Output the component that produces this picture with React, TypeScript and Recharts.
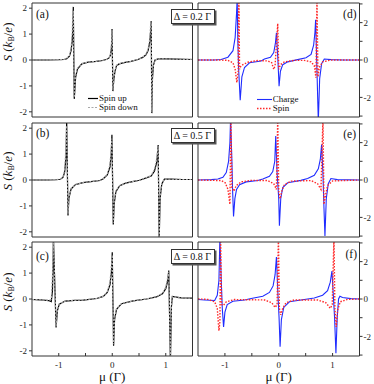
import { LineChart, Line, XAxis, YAxis, Legend, Label } from "recharts";

// chemical potential grids (units of Γ) and thermopower S (k_B/e)

// (a) Δ = 0.2Γ
const muA = [-1.5, -1.2, -1.0, -0.9, -0.85, -0.8, -0.77, -0.75, -0.74, -0.728, -0.71, -0.685, -0.65, -0.57, -0.45, -0.3, -0.18, -0.1, -0.06, -0.035, -0.015, -0.004, 0.012, 0.03, 0.05, 0.08, 0.13, 0.22, 0.35, 0.48, 0.57, 0.63, 0.67, 0.7, 0.715, 0.728, 0.74, 0.752, 0.77, 0.8, 0.86, 1.0, 1.2, 1.5];
const spinUpA = [0, 0, 0.01, 0.02, 0.05, 0.15, 0.36, 0.7, 1.05, 2.05, -1.5, -0.67, -0.35, -0.15, -0.08, -0.05, -0.02, 0.03, 0.08, 0.18, 0.45, 1.2, -1.2, -0.75, -0.45, -0.22, -0.15, -0.1, -0.05, 0.02, 0.1, 0.2, 0.36, 0.68, 1.05, 1.5, -2.05, -0.7, -0.2, 0.0, 0.04, 0.04, 0.03, 0.02];
const spinDownA = [0, 0, 0.01, 0.02, 0.06, 0.18, 0.45, 0.95, 1.6, 1.9, -1.45, -0.6, -0.32, -0.14, -0.08, -0.05, -0.02, 0.03, 0.09, 0.22, 0.6, 1.15, -1.15, -0.7, -0.42, -0.21, -0.14, -0.1, -0.05, 0.02, 0.11, 0.22, 0.42, 0.8, 1.3, 1.45, -2.0, -0.65, -0.18, 0.0, 0.04, 0.04, 0.03, 0.02];

// (b) Δ = 0.5Γ
const muB = [-1.5, -1.2, -1.05, -0.97, -0.92, -0.89, -0.864, -0.852, -0.827, -0.81, -0.77, -0.69, -0.55, -0.4, -0.23, -0.167, -0.093, -0.043, -0.019, -0.006, 0.019, 0.037, 0.068, 0.14, 0.25, 0.4, 0.51, 0.636, 0.728, 0.79, 0.833, 0.858, 0.877, 0.895, 0.926, 0.975, 1.1, 1.3, 1.5];
const spinUpB = [0, 0, 0.01, 0.03, 0.1, 0.3, 0.9, 2.3, -1.37, -0.7, -0.35, -0.18, -0.1, -0.06, -0.02, 0.05, 0.2, 0.5, 1.0, 1.75, -1.72, -0.9, -0.45, -0.22, -0.12, -0.05, -0.01, 0.08, 0.15, 0.35, 0.7, 1.35, -2.3, -0.7, -0.15, 0.03, 0.03, 0.02, 0.02];
const spinDownB = [0, 0, 0.01, 0.04, 0.12, 0.4, 1.3, 2.1, -1.3, -0.65, -0.32, -0.17, -0.1, -0.06, -0.02, 0.06, 0.22, 0.6, 1.25, 1.6, -1.65, -0.85, -0.42, -0.21, -0.12, -0.05, -0.01, 0.09, 0.17, 0.42, 0.85, 1.3, -2.25, -0.65, -0.13, 0.03, 0.03, 0.02, 0.02];

// (c) Δ = 0.8Γ
const muC = [-1.5, -1.35, -1.19, -1.14, -1.118, -1.106, -1.1, -1.05, -1.025, -0.99, -0.88, -0.7, -0.54, -0.29, -0.168, -0.093, -0.043, -0.012, 0.0, 0.025, 0.043, 0.08, 0.174, 0.39, 0.64, 0.826, 0.938, 1.0, 1.037, 1.056, 1.087, 1.106, 1.124, 1.168, 1.29, 1.5];
const spinUpC = [-0.02, -0.03, -0.06, -0.1, 0.3, 1.2, 2.4, -1.1, -0.45, -0.2, -0.08, -0.05, -0.04, 0.02, 0.1, 0.25, 0.55, 1.1, 1.8, -1.8, -0.8, -0.4, -0.18, -0.07, 0.0, 0.08, 0.2, 0.4, 0.7, 1.1, -2.4, -0.3, 0.1, 0.08, 0.04, 0.03];
const spinDownC = [-0.02, -0.03, -0.05, -0.02, 0.9, 2.0, 2.4, -1.05, -0.42, -0.19, -0.08, -0.05, -0.04, 0.02, 0.11, 0.28, 0.65, 1.4, 1.7, -1.75, -0.75, -0.38, -0.17, -0.07, 0.0, 0.09, 0.22, 0.45, 0.85, 1.05, -2.35, -0.28, 0.09, 0.07, 0.04, 0.03];

// (d) charge / spin, Δ = 0.2Γ
const muChargeD = [-1.5, -1.2, -1.07, -0.944, -0.85, -0.81, -0.784, -0.772, -0.76, -0.745, -0.716, -0.685, -0.636, -0.543, -0.327, -0.265, -0.154, -0.093, -0.062, -0.043, -0.019, 0.006, 0.031, 0.074, 0.167, 0.35, 0.506, 0.6, 0.648, 0.673, 0.685, 0.735, 0.76, 0.796, 0.846, 0.97, 1.2, 1.5];
const chargeD = [0, 0, 0.03, 0.15, 0.5, 1.2, 2.5, 3.3, 1.0, -0.5, -2.15, -0.9, -0.4, -0.15, -0.05, 0.05, 0.15, 0.4, 0.9, 1.45, 0.2, -1.4, -0.6, -0.25, -0.1, 0.02, 0.12, 0.3, 0.8, 1.5, 2.15, -3.3, -1.0, -0.2, 0.05, 0.02, 0.0, 0.0];
const muSpinD = [-1.5, -1.1, -0.944, -0.85, -0.81, -0.778, -0.753, -0.741, -0.728, -0.722, -0.667, -0.574, -0.389, -0.2, -0.13, -0.093, -0.068, -0.019, 0.0, 0.031, 0.105, 0.29, 0.475, 0.6, 0.66, 0.691, 0.71, 0.728, 0.753, 0.815, 0.97, 1.5];
const spinD = [0, 0, -0.02, -0.15, -0.5, -1.2, -0.6, 3.3, -0.5, -0.4, -0.25, -0.12, -0.03, -0.05, -0.15, -0.5, -0.3, 1.95, -0.5, -0.25, -0.1, -0.02, -0.02, -0.1, -0.3, -0.95, 3.3, -0.9, -0.4, -0.1, 0.0, 0];

// (e) charge / spin, Δ = 0.5Γ
const muChargeE = [-1.5, -1.25, -1.13, -1.037, -0.975, -0.932, -0.907, -0.895, -0.87, -0.858, -0.84, -0.815, -0.784, -0.728, -0.605, -0.389, -0.296, -0.173, -0.111, -0.074, -0.056, -0.031, 0.0, 0.012, 0.037, 0.074, 0.167, 0.41, 0.537, 0.66, 0.735, 0.772, 0.796, 0.821, 0.84, 0.858, 0.883, 0.92, 0.969, 1.09, 1.5];
const chargeE = [0, 0.02, 0.05, 0.15, 0.4, 1.0, 2.0, 3.3, 1.0, -0.5, -1.95, -1.0, -0.5, -0.25, -0.1, -0.03, 0.05, 0.2, 0.45, 1.0, 2.35, 0.4, -1.0, -2.45, -1.0, -0.4, -0.15, -0.02, 0.08, 0.25, 0.6, 1.1, 1.9, 0.3, -1.5, -3.0, -1.0, -0.2, 0.08, 0.02, 0];
const muSpinE = [-1.5, -1.068, -0.994, -0.944, -0.907, -0.889, -0.87, -0.833, -0.79, -0.698, -0.512, -0.204, -0.093, -0.043, -0.019, 0.0, 0.025, 0.056, 0.105, 0.228, 0.6, 0.722, 0.784, 0.821, 0.84, 0.87, 0.907, 1.0, 1.5];
const spinE = [0, -0.03, -0.15, -0.5, -1.3, 3.3, -0.4, -0.6, -0.3, -0.1, -0.02, -0.03, -0.2, -0.5, 3.3, -0.6, -1.0, -0.6, -0.25, -0.06, -0.03, -0.2, -0.5, 3.3, -1.3, -0.8, -0.3, -0.05, 0];

// (f) charge / spin, Δ = 0.8Γ
const muChargeF = [-1.5, -1.376, -1.19, -1.142, -1.111, -1.093, -1.068, -1.049, -1.025, -1.0, -0.957, -0.852, -0.636, -0.512, -0.296, -0.173, -0.105, -0.068, -0.043, -0.019, 0.006, 0.025, 0.049, 0.093, 0.198, 0.475, 0.66, 0.815, 0.907, 0.957, 0.988, 1.012, 1.037, 1.062, 1.086, 1.111, 1.136, 1.185, 1.34, 1.5];
const chargeF = [-0.03, -0.05, -0.08, 0.2, 1.0, 3.3, 1.0, -0.5, -1.5, -0.7, -0.3, -0.12, -0.05, 0.03, 0.15, 0.35, 0.7, 1.3, 2.25, 0.5, -1.0, -2.55, -1.1, -0.45, -0.15, -0.03, 0.05, 0.2, 0.45, 0.9, 1.5, 0.3, -1.0, -2.9, -1.0, 0.0, 0.15, 0.08, 0.02, 0];
const muSpinF = [-1.5, -1.315, -1.19, -1.142, -1.111, -1.093, -1.08, -1.062, -1.031, -0.975, -0.821, -0.265, -0.13, -0.068, -0.031, -0.006, 0.012, 0.037, 0.074, 0.136, 0.29, 0.722, 0.877, 0.957, 0.994, 1.025, 1.043, 1.068, 1.093, 1.142, 1.278, 1.5];
const spinF = [0, -0.02, -0.15, -0.5, -1.7, -1.2, 3.3, -0.3, -0.35, -0.15, -0.03, -0.05, -0.2, -0.45, -0.3, 3.3, -0.5, -0.85, -0.5, -0.2, -0.05, -0.05, -0.2, -0.5, -0.3, 3.3, -0.5, -1.5, -0.6, -0.15, -0.02, 0];

const deltaLabels = ["Δ = 0.2 Γ", "Δ = 0.5 Γ", "Δ = 0.8 Γ"];
const legendOrder = ["Spin up", "Spin down", "Charge", "Spin"];
const xTicks = [-1, -0.5, 0, 0.5, 1];
const leftTicks = [-2, -1, 0, 1, 2];
const rightTicks = [-3, -2, -1, 0, 1, 2, 3];

const FONT = "'Liberation Serif', 'DejaVu Serif', serif";
const AXIS = "#333";
const tickStyle = { fontSize: 9, fill: "#222", fontFamily: FONT };

const pts = (mu: number[], s: number[]) => mu.map((m, i) => ({ mu: m, s: s[i] }));
const fmtX = (v: number) => (Number.isInteger(v) ? String(v) : "");
const fmtRight = (v: number) => (v % 2 === 0 && Math.abs(v) < 3 ? String(v) : "");

function LegendBox({ payload, lineW }: any) {
  const items = [...(payload ?? [])].sort(
    (a: any, b: any) => legendOrder.indexOf(a.value) - legendOrder.indexOf(b.value)
  );
  return (
    <div style={{ fontFamily: FONT, fontSize: 9, color: "#111" }}>
      {items.map((e: any) => (
        <div key={e.value} style={{ display: "flex", alignItems: "center", height: 9 }}>
          <svg width={lineW} height={9}>
            <line
              x1={0}
              y1={4.5}
              x2={lineW}
              y2={4.5}
              stroke={e.color}
              strokeWidth={e.payload?.strokeWidth ?? 1.2}
              strokeDasharray={e.payload?.strokeDasharray}
            />
          </svg>
          <span style={{ marginLeft: 1, lineHeight: "9px" }}>{e.value}</span>
        </div>
      ))}
    </div>
  );
}

interface PanelProps {
  top: number;
  bottom?: boolean;
  legend?: boolean;
}

function SpinPanel({ top, mu, up, down, bottom = false, legend = false }: PanelProps & { mu: number[]; up: number[]; down: number[] }) {
  const xh = bottom ? 28 : 1;
  return (
    <div style={{ position: "absolute", left: 0, top: top - 1 }}>
      <LineChart width={193.5} height={115 + xh} margin={{ top: 0, right: 0, bottom: 0, left: 0 }}>
        <XAxis xAxisId="b" type="number" dataKey="mu" domain={[-1.5, 1.5]} ticks={xTicks} interval={0}
          allowDataOverflow height={xh} tickSize={-3} tickMargin={bottom ? 9 : 0}
          tick={bottom ? tickStyle : false} tickFormatter={fmtX} stroke={AXIS}>
          {bottom && <Label value="μ (Γ)" position="insideBottom" offset={3} fontSize={13} fontFamily={FONT} fill="#111" />}
        </XAxis>
        <XAxis xAxisId="t" orientation="top" type="number" dataKey="mu" domain={[-1.5, 1.5]} ticks={xTicks}
          interval={0} height={1} tickSize={-3} tick={false} stroke={AXIS} />
        <YAxis yAxisId="l" type="number" domain={[-2.2, 2.2]} ticks={leftTicks} interval={0} allowDataOverflow
          width={32} tickSize={3} tickMargin={2} tick={tickStyle} stroke={AXIS} />
        <YAxis yAxisId="r" orientation="right" type="number" domain={[-2.2, 2.2]} ticks={leftTicks} interval={0}
          width={1} tickSize={-3} tick={false} stroke={AXIS} />
        <Line xAxisId="b" yAxisId="l" data={pts(mu, up)} dataKey="s" name="Spin up" stroke="#000"
          strokeWidth={1.2} dot={false} isAnimationActive={false} />
        <Line xAxisId="b" yAxisId="l" data={pts(mu, down)} dataKey="s" name="Spin down" stroke="#a8a8a8"
          strokeWidth={1.2} strokeDasharray="2 1.5" dot={false} isAnimationActive={false} />
        {legend && (
          <Legend layout="vertical" align="center" verticalAlign="middle"
            wrapperStyle={{ left: 88, top: 92.3, width: 60 }}
            content={(p: any) => <LegendBox payload={p.payload} lineW={10} />} />
        )}
      </LineChart>
    </div>
  );
}

function ChargePanel({ top, muC, charge, muS, spin, bottom = false, legend = false }: PanelProps & { muC: number[]; charge: number[]; muS: number[]; spin: number[] }) {
  const xh = bottom ? 28 : 1;
  return (
    <div style={{ position: "absolute", left: 197, top: top - 1 }}>
      <LineChart width={176.5} height={115 + xh} margin={{ top: 0, right: 0, bottom: 0, left: 0 }}>
        <XAxis xAxisId="b" type="number" dataKey="mu" domain={[-1.5, 1.5]} ticks={xTicks} interval={0}
          allowDataOverflow height={xh} tickSize={-3} tickMargin={bottom ? 9 : 0}
          tick={bottom ? tickStyle : false} tickFormatter={fmtX} stroke={AXIS}>
          {bottom && <Label value="μ (Γ)" position="insideBottom" offset={3} fontSize={13} fontFamily={FONT} fill="#111" />}
        </XAxis>
        <XAxis xAxisId="t" orientation="top" type="number" dataKey="mu" domain={[-1.5, 1.5]} ticks={xTicks}
          interval={0} height={1} tickSize={-3} tick={false} stroke={AXIS} />
        <YAxis yAxisId="l" type="number" domain={[-3.05, 3.05]} ticks={rightTicks} interval={0}
          width={1} tickSize={-3} tick={false} stroke={AXIS} />
        <YAxis yAxisId="r" orientation="right" type="number" domain={[-3.05, 3.05]} ticks={rightTicks} interval={0}
          allowDataOverflow width={14} tickSize={3} tickMargin={1} tick={tickStyle} tickFormatter={fmtRight} stroke={AXIS} />
        <Line xAxisId="b" yAxisId="r" data={pts(muC, charge)} dataKey="s" name="Charge" stroke="#1f2cff"
          strokeWidth={1.1} dot={false} isAnimationActive={false} />
        <Line xAxisId="b" yAxisId="r" data={pts(muS, spin)} dataKey="s" name="Spin" stroke="#ff2828"
          strokeWidth={1.4} strokeDasharray="1.5 1.5" dot={false} isAnimationActive={false} />
        {legend && (
          <Legend layout="vertical" align="center" verticalAlign="middle"
            wrapperStyle={{ left: 59.7, top: 93, width: 60 }}
            content={(p: any) => <LegendBox payload={p.payload} lineW={15} />} />
        )}
      </LineChart>
    </div>
  );
}

function YTitle({ cy }: { cy: number }) {
  return (
    <div style={{
      position: "absolute", left: 10, top: cy, transform: "translate(-50%, -50%) rotate(-90deg)",
      whiteSpace: "nowrap", fontFamily: FONT, fontSize: 13, color: "#111", lineHeight: "14px",
    }}>
      <i>S</i> (<i>k</i><sub style={{ fontSize: 8, verticalAlign: "-2px" }}>B</sub>/<i>e</i>)
    </div>
  );
}

function Tag({ text, left, right, cy }: { text: string; left?: number; right?: number; cy: number }) {
  return (
    <div style={{
      position: "absolute", left, right, top: cy - 7, fontFamily: FONT, fontSize: 11.5,
      lineHeight: "14px", color: "#111",
    }}>
      {text}
    </div>
  );
}

function DeltaBox({ text, top }: { text: string; top: number }) {
  return (
    <div style={{
      position: "absolute", left: 170.5, top, width: 44, height: 15, boxSizing: "border-box",
      border: "1px solid #333", background: "#fff", boxShadow: "1.5px 1.5px 0 #555",
      fontFamily: FONT, fontSize: 10, color: "#111", display: "flex", alignItems: "center",
      justifyContent: "center", whiteSpace: "nowrap",
    }}>
      {text}
    </div>
  );
}

export default function App() {
  return (
    <div style={{ position: "absolute", left: 0, top: 0, width: 374, height: 384, background: "#fff", overflow: "hidden" }}>
      <SpinPanel top={2.5} mu={muA} up={spinUpA} down={spinDownA} legend />
      <SpinPanel top={122.5} mu={muB} up={spinUpB} down={spinDownB} />
      <SpinPanel top={242} mu={muC} up={spinUpC} down={spinDownC} bottom />

      <ChargePanel top={2.5} muC={muChargeD} charge={chargeD} muS={muSpinD} spin={spinD} legend />
      <ChargePanel top={122.5} muC={muChargeE} charge={chargeE} muS={muSpinE} spin={spinE} />
      <ChargePanel top={242} muC={muChargeF} charge={chargeF} muS={muSpinF} spin={spinF} bottom />

      <YTitle cy={42} />
      <YTitle cy={171} />
      <YTitle cy={292} />

      <Tag text="(a)" left={36} cy={14} />
      <Tag text="(b)" left={36} cy={133} />
      <Tag text="(c)" left={36} cy={256} />
      <Tag text="(d)" right={17.5} cy={14} />
      <Tag text="(e)" right={18} cy={133.5} />
      <Tag text="(f)" right={17} cy={254} />

      <DeltaBox text={deltaLabels[0]} top={8.5} />
      <DeltaBox text={deltaLabels[1]} top={127.5} />
      <DeltaBox text={deltaLabels[2]} top={249} />
    </div>
  );
}
